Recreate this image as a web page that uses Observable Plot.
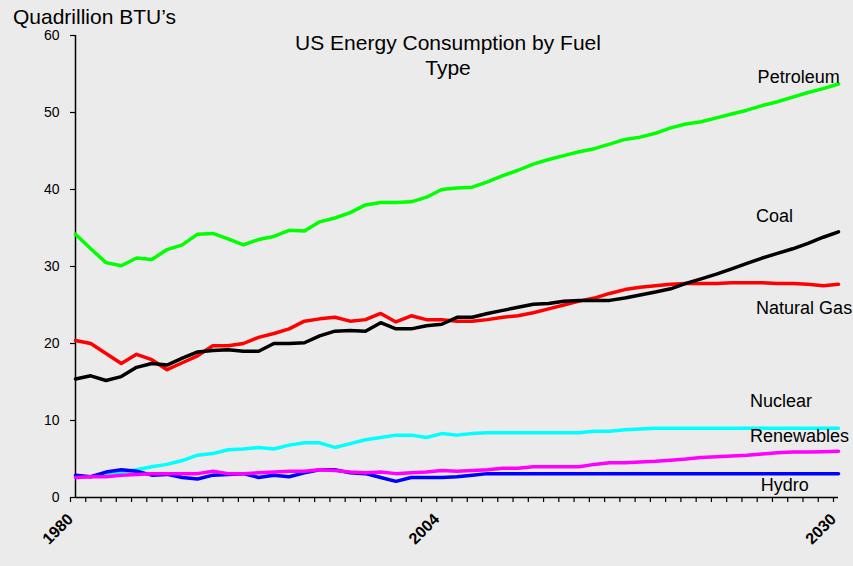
<!DOCTYPE html>
<html>
<head>
<meta charset="utf-8">
<script src="https://cdn.jsdelivr.net/npm/d3@7"></script>
<script src="https://cdn.jsdelivr.net/npm/@observablehq/plot@0.6"></script>
<style>
  html, body { margin: 0; padding: 0; background: #ebebeb; }
  #chart { width: 853px; height: 566px; overflow: hidden; }
</style>
</head>
<body>
<div id="chart"></div>
<script>
const years = d3.range(1980, 2031);
const xTickLabels = [1980, 2004, 2030];
const yTicks = [0, 10, 20, 30, 40, 50, 60];

const petroleum = [34.2, 32.3, 30.5, 30.1, 31.1, 30.9, 32.2, 32.8, 34.2, 34.3,
  33.6, 32.8, 33.5, 33.9, 34.7, 34.6, 35.8, 36.3, 37.0, 38.0,
  38.3, 38.3, 38.4, 39.0, 40.0, 40.2, 40.3, 41.0, 41.8, 42.5,
  43.3, 43.9, 44.4, 44.9, 45.3, 45.9, 46.5, 46.8, 47.3, 48.0,
  48.5, 48.8, 49.3, 49.8, 50.3, 50.9, 51.4, 52.0, 52.6, 53.1, 53.7];
const coal = [15.4, 15.8, 15.2, 15.7, 16.9, 17.4, 17.2, 18.1, 18.9, 19.1,
  19.2, 19.0, 19.0, 20.0, 20.0, 20.1, 21.0, 21.6, 21.7, 21.6,
  22.7, 21.9, 21.9, 22.3, 22.5, 23.4, 23.4, 23.9, 24.3, 24.7,
  25.1, 25.2, 25.5, 25.6, 25.6, 25.6, 25.9, 26.3, 26.7, 27.1,
  27.8, 28.4, 29.0, 29.7, 30.4, 31.1, 31.7, 32.3, 33.0, 33.8, 34.5];
const naturalGas = [20.4, 20.0, 18.7, 17.4, 18.6, 17.9, 16.6, 17.5, 18.4, 19.7,
  19.7, 20.0, 20.8, 21.3, 21.9, 22.9, 23.2, 23.4, 22.9, 23.1,
  23.9, 22.8, 23.6, 23.1, 23.1, 22.9, 22.9, 23.1, 23.4, 23.6,
  24.0, 24.5, 25.0, 25.5, 25.9, 26.5, 27.0, 27.3, 27.5, 27.7,
  27.8, 27.8, 27.8, 27.9, 27.9, 27.9, 27.8, 27.8, 27.7, 27.5, 27.7];
const nuclear = [2.7, 2.7, 3.1, 3.3, 3.6, 4.0, 4.3, 4.8, 5.5, 5.7,
  6.2, 6.3, 6.5, 6.3, 6.8, 7.1, 7.1, 6.5, 7.0, 7.5,
  7.8, 8.1, 8.1, 7.8, 8.3, 8.1, 8.3, 8.4, 8.4, 8.4,
  8.4, 8.4, 8.4, 8.4, 8.6, 8.6, 8.8, 8.9, 9.0, 9.0,
  9.0, 9.0, 9.0, 9.0, 9.0, 9.0, 9.0, 9.0, 9.0, 9.0, 9.0];
const hydro = [2.9, 2.7, 3.3, 3.6, 3.4, 2.9, 3.0, 2.6, 2.4, 2.9,
  3.0, 3.1, 2.6, 2.9, 2.7, 3.2, 3.6, 3.6, 3.2, 3.1,
  2.6, 2.1, 2.6, 2.6, 2.6, 2.7, 2.9, 3.1, 3.1, 3.1,
  3.1, 3.1, 3.1, 3.1, 3.1, 3.1, 3.1, 3.1, 3.1, 3.1,
  3.1, 3.1, 3.1, 3.1, 3.1, 3.1, 3.1, 3.1, 3.1, 3.1, 3.1];
const renewables = [2.6, 2.7, 2.7, 2.9, 3.0, 3.1, 3.1, 3.1, 3.1, 3.4,
  3.1, 3.1, 3.2, 3.3, 3.4, 3.4, 3.6, 3.5, 3.3, 3.2,
  3.3, 3.1, 3.2, 3.3, 3.5, 3.4, 3.5, 3.6, 3.8, 3.8,
  4.0, 4.0, 4.0, 4.0, 4.3, 4.5, 4.5, 4.6, 4.7, 4.85,
  5.0, 5.2, 5.3, 5.4, 5.5, 5.65, 5.8, 5.9, 5.9, 5.95, 6.0];

const seriesNames = ["Petroleum", "Natural Gas", "Coal", "Nuclear", "Hydro", "Renewables"];
const seriesValues = [petroleum, naturalGas, coal, nuclear, hydro, renewables];
const seriesColors = ["#00ff00", "#ff0000", "#000000", "#00ffff", "#0000ff", "#ff00ff"];

// label anchors (year, value) for series names
const labelNames = ["Petroleum", "Coal", "Natural Gas", "Nuclear", "Renewables", "Hydro"];
const labelYears = [2024.7, 2024.6, 2024.6, 2024.2, 2024.2, 2024.9];
const labelValues = [53.8, 35.8, 23.8, 11.8, 7.2, 0.9];

const titleText = "US Energy Consumption by Fuel\nType";
const yLabelText = "Quadrillion BTU\u2019s";

const table = seriesNames.flatMap((name, i) =>
  years.map((year, j) => ({ series: name, year, value: seriesValues[i][j] })));
const labels = labelNames.map((name, i) => ({ name, year: labelYears[i], value: labelValues[i] }));

const font = "'Liberation Sans', Arial, Helvetica, sans-serif";

const chart = Plot.plot({
  width: 853,
  height: 566,
  marginLeft: 75,
  marginRight: 15,
  marginTop: 35,
  marginBottom: 69,
  style: { background: "#ebebeb", fontFamily: font, color: "#000", overflow: "visible" },
  x: { domain: [1980, 2030] },
  y: { domain: [0, 60] },
  color: { domain: seriesNames, range: seriesColors },
  marks: [
    Plot.axisY({ ticks: yTicks, tickSize: 5, tickPadding: 11, fontSize: 14, label: null, stroke: "#000", strokeWidth: 1.2 }),
    Plot.axisX({
      ticks: years, tickSize: 5, tickPadding: 14, tickRotate: -45, fontSize: 16, fontWeight: "bold",
      dx: -5, tickFormat: d => xTickLabels.includes(d) ? String(d) : "", label: null, stroke: "#000", strokeWidth: 1.2
    }),
    Plot.ruleX([1980], { y1: 0, y2: 60, stroke: "#000", strokeWidth: 1.5 }),
    Plot.ruleY([0], { stroke: "#000", strokeWidth: 1.5 }),
    ...seriesNames.map(name => Plot.line(table.filter(d => d.series === name), {
      x: "year", y: "value", stroke: "series", strokeWidth: 3.5, strokeLinejoin: "round", strokeLinecap: "round"
    })),
    Plot.text(labels, { x: "year", y: "value", text: "name", textAnchor: "start", lineAnchor: "bottom", fontSize: 18, fill: "#000" }),
    Plot.text([titleText], { frameAnchor: "top", text: d => d, dx: -9, dy: 39.5, lineAnchor: "bottom", lineHeight: 1.19, fontSize: 21, fill: "#000" }),
    Plot.text([yLabelText], { frameAnchor: "top-left", text: d => d, dx: -62.5, dy: -11.5, textAnchor: "start", lineAnchor: "bottom", fontSize: 21, fill: "#000" })
  ]
});
document.getElementById("chart").appendChild(chart);
</script>
</body>
</html>
